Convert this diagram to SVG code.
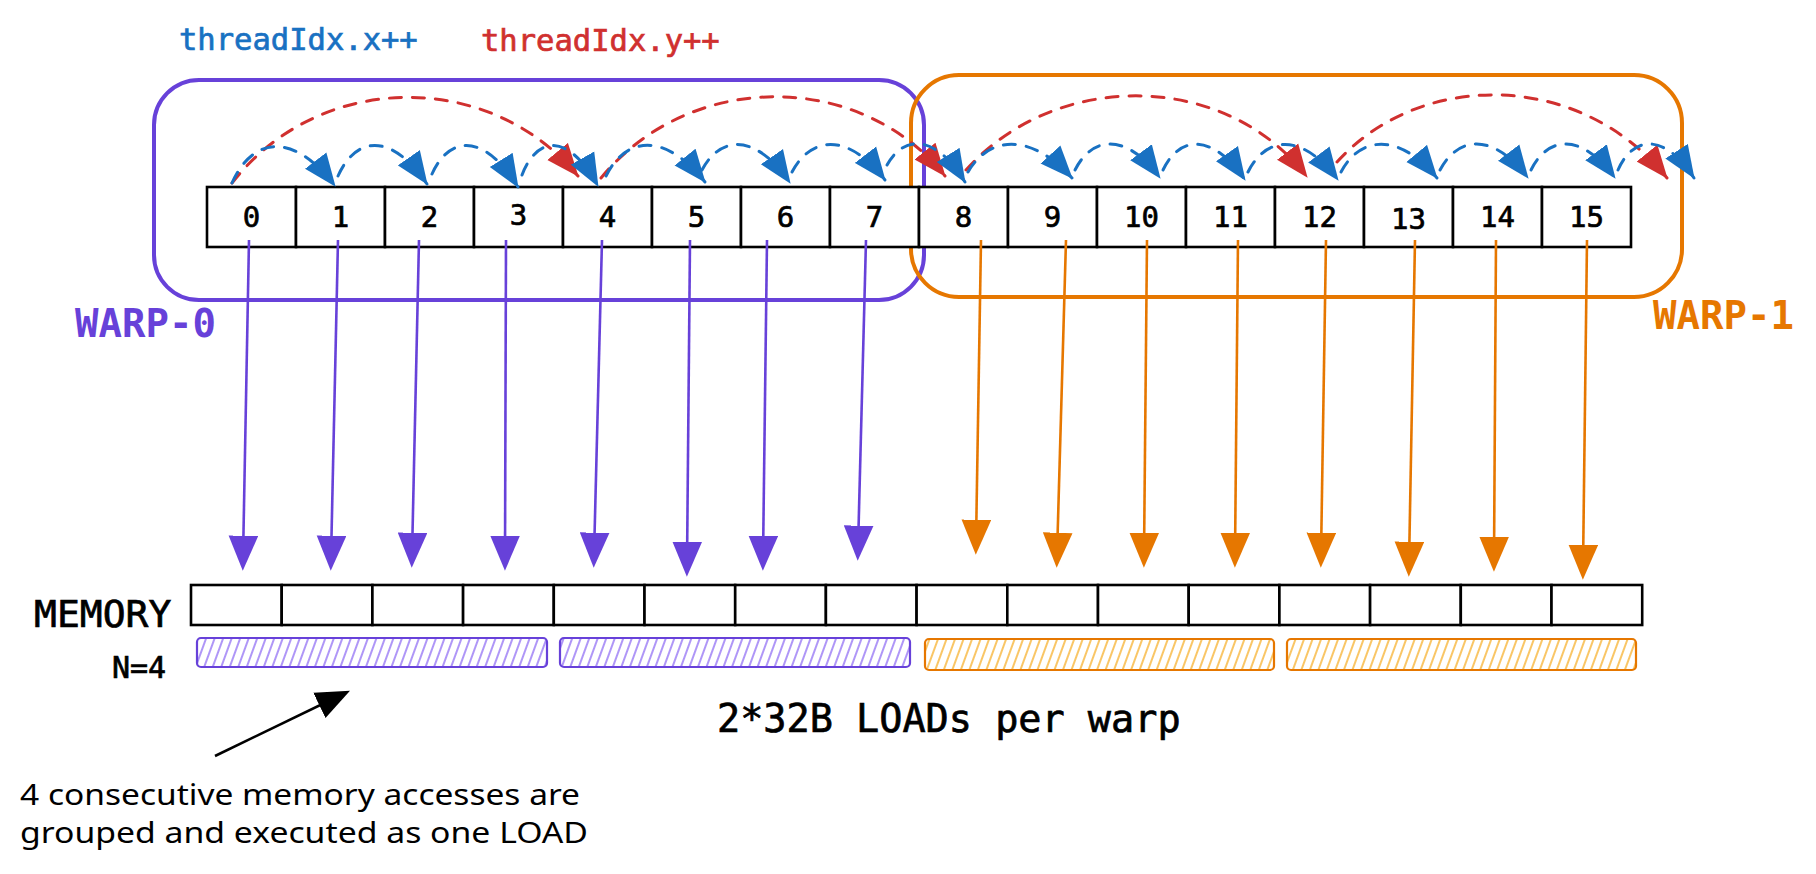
<svg xmlns="http://www.w3.org/2000/svg" width="1816" height="874" viewBox="0 0 1816 874">
<style>
.box{fill:#fff;stroke:#000;stroke-width:2.6}
.num{font-family:"DejaVu Sans Mono","Liberation Mono",monospace;font-size:29px;fill:#000;stroke:#000;stroke-width:0.7;text-anchor:middle}
.mono{font-family:"DejaVu Sans Mono","Liberation Mono",monospace}
.med{stroke-width:0.7}
.warp0{fill:none;stroke:#6741d9;stroke-width:4}
.warp1{fill:none;stroke:#e67700;stroke-width:4}
.vp{stroke:#6741d9;stroke-width:2.6;fill:none}
.vo{stroke:#e67700;stroke-width:2.6;fill:none}
.bx{stroke:#1971c2;stroke-width:3;fill:none;stroke-dasharray:12 11;stroke-linecap:round}
.rx{stroke:#d0302f;stroke-width:3;fill:none;stroke-dasharray:12 11;stroke-linecap:round}
.hand{font-family:"Noto Sans","Liberation Sans",sans-serif;font-size:29px;fill:#000}
</style>
<defs>
<marker id="ap" markerUnits="userSpaceOnUse" markerWidth="36" markerHeight="30" refX="22" refY="14" orient="auto" viewBox="0 0 34 28"><path d="M0,0 L33,14 L0,28 z" fill="#6741d9"/></marker>
<marker id="ao" markerUnits="userSpaceOnUse" markerWidth="36" markerHeight="30" refX="22" refY="14" orient="auto" viewBox="0 0 34 28"><path d="M0,0 L33,14 L0,28 z" fill="#e67700"/></marker>
<marker id="ab" markerUnits="userSpaceOnUse" markerWidth="34" markerHeight="28" refX="31" refY="13" orient="auto" viewBox="0 0 33 26"><path d="M0,0 L32,13 L0,26 z" fill="#1971c2"/></marker>
<marker id="ar" markerUnits="userSpaceOnUse" markerWidth="34" markerHeight="28" refX="31" refY="13" orient="auto" viewBox="0 0 33 26"><path d="M0,0 L32,13 L0,26 z" fill="#d0302f"/></marker>
<marker id="ak" markerUnits="userSpaceOnUse" markerWidth="34" markerHeight="30" refX="24" refY="14" orient="auto" viewBox="0 0 34 28"><path d="M0,0 L34,14 L0,28 z" fill="#000"/></marker>
<pattern id="hp" width="8" height="10" patternUnits="userSpaceOnUse" patternTransform="rotate(20)"><line x1="4" y1="0" x2="4" y2="10" stroke="#7950f2" stroke-width="1.2"/></pattern>
<pattern id="ho" width="8" height="10" patternUnits="userSpaceOnUse" patternTransform="rotate(20)"><line x1="4" y1="0" x2="4" y2="10" stroke="#f59f00" stroke-width="1.2"/></pattern>
</defs>

<g id="legend">
<text class="mono med" x="179" y="50" font-size="30.5" fill="#1971c2" stroke="#1971c2">threadIdx.x++</text>
<text class="mono med" x="481" y="51" font-size="30.5" fill="#d0302f" stroke="#d0302f">threadIdx.y++</text>
</g>

<g id="warp0">
<rect class="warp0" x="154" y="80" width="770" height="220" rx="45"/>
<text class="mono" x="75" y="337" font-size="39" font-weight="bold" fill="#6741d9">WARP-0</text>
</g>
<g id="warp1">
<rect class="warp1" x="911" y="75" width="771" height="222" rx="48"/>
<text class="mono" x="1653" y="329" font-size="39" font-weight="bold" fill="#e67700">WARP-1</text>
</g>

<g id="threads">
<g id="t0"><rect class="box" x="207" y="187" width="89" height="60"/><text class="num" x="251.5" y="227">0</text></g>
<g id="t1"><rect class="box" x="296" y="187" width="89" height="60"/><text class="num" x="340.5" y="227">1</text></g>
<g id="t2"><rect class="box" x="385" y="187" width="89" height="60"/><text class="num" x="429.5" y="227">2</text></g>
<g id="t3"><rect class="box" x="474" y="187" width="89" height="60"/><text class="num" x="518.5" y="225">3</text></g>
<g id="t4"><rect class="box" x="563" y="187" width="89" height="60"/><text class="num" x="607.5" y="227">4</text></g>
<g id="t5"><rect class="box" x="652" y="187" width="89" height="60"/><text class="num" x="696.5" y="227">5</text></g>
<g id="t6"><rect class="box" x="741" y="187" width="89" height="60"/><text class="num" x="785.5" y="227">6</text></g>
<g id="t7"><rect class="box" x="830" y="187" width="89" height="60"/><text class="num" x="874.5" y="227">7</text></g>
<g id="t8"><rect class="box" x="919" y="187" width="89" height="60"/><text class="num" x="963.5" y="227">8</text></g>
<g id="t9"><rect class="box" x="1008" y="187" width="89" height="60"/><text class="num" x="1052.5" y="227">9</text></g>
<g id="t10"><rect class="box" x="1097" y="187" width="89" height="60"/><text class="num" x="1141.5" y="227">10</text></g>
<g id="t11"><rect class="box" x="1186" y="187" width="89" height="60"/><text class="num" x="1230.5" y="227">11</text></g>
<g id="t12"><rect class="box" x="1275" y="187" width="89" height="60"/><text class="num" x="1319.5" y="227">12</text></g>
<g id="t13"><rect class="box" x="1364" y="187" width="89" height="60"/><text class="num" x="1408.5" y="229">13</text></g>
<g id="t14"><rect class="box" x="1453" y="187" width="89" height="60"/><text class="num" x="1497.5" y="227">14</text></g>
<g id="t15"><rect class="box" x="1542" y="187" width="89" height="60"/><text class="num" x="1586.5" y="227">15</text></g>
</g>

<g id="memory">
<text class="mono med" x="34" y="627" font-size="38" fill="#000" stroke="#000" stroke-width="1.2">MEMORY</text>
<text class="mono med" x="112" y="678" font-size="30" fill="#000" stroke="#000">N=4</text>
<rect class="box" x="191" y="585" width="90.7" height="40"/>
<rect class="box" x="281.7" y="585" width="90.7" height="40"/>
<rect class="box" x="372.4" y="585" width="90.7" height="40"/>
<rect class="box" x="463.1" y="585" width="90.7" height="40"/>
<rect class="box" x="553.8" y="585" width="90.7" height="40"/>
<rect class="box" x="644.5" y="585" width="90.7" height="40"/>
<rect class="box" x="735.2" y="585" width="90.7" height="40"/>
<rect class="box" x="825.9" y="585" width="90.7" height="40"/>
<rect class="box" x="916.6" y="585" width="90.7" height="40"/>
<rect class="box" x="1007.3" y="585" width="90.7" height="40"/>
<rect class="box" x="1098" y="585" width="90.7" height="40"/>
<rect class="box" x="1188.7" y="585" width="90.7" height="40"/>
<rect class="box" x="1279.4" y="585" width="90.7" height="40"/>
<rect class="box" x="1370.1" y="585" width="90.7" height="40"/>
<rect class="box" x="1460.8" y="585" width="90.7" height="40"/>
<rect class="box" x="1551.5" y="585" width="90.7" height="40"/>
</g>

<g id="loads">
<rect x="197" y="638" width="350" height="29" rx="4" fill="url(#hp)" stroke="#6741d9" stroke-width="2.2"/>
<rect x="560" y="638" width="350" height="29" rx="4" fill="url(#hp)" stroke="#6741d9" stroke-width="2.2"/>
<rect x="925" y="639" width="349" height="31" rx="4" fill="url(#ho)" stroke="#e67700" stroke-width="2.2"/>
<rect x="1287" y="639" width="349" height="31" rx="4" fill="url(#ho)" stroke="#e67700" stroke-width="2.2"/>
<text class="mono med" x="717" y="732" font-size="38.5" fill="#000" stroke="#000">2*32B LOADs per warp</text>
</g>

<g id="note">
<text class="hand" x="20" y="805" textLength="560" lengthAdjust="spacingAndGlyphs">4 consecutive memory accesses are</text>
<text class="hand" x="20" y="843" textLength="568" lengthAdjust="spacingAndGlyphs">grouped and executed as one LOAD</text>
</g>

<g id="connectors">
<path class="vp" d="M249,240 L243,559" marker-end="url(#ap)"/>
<path class="vp" d="M338,240 L331,559" marker-end="url(#ap)"/>
<path class="vp" d="M419,240 L412,556" marker-end="url(#ap)"/>
<path class="vp" d="M506,240 L505,559" marker-end="url(#ap)"/>
<path class="vp" d="M602,240 L594,556" marker-end="url(#ap)"/>
<path class="vp" d="M690,240 L687,565" marker-end="url(#ap)"/>
<path class="vp" d="M767,240 L763,559" marker-end="url(#ap)"/>
<path class="vp" d="M866,240 L858,549" marker-end="url(#ap)"/>
<path class="vo" d="M981,240 L976,543" marker-end="url(#ao)"/>
<path class="vo" d="M1066,240 L1057,556" marker-end="url(#ao)"/>
<path class="vo" d="M1147,240 L1144,556" marker-end="url(#ao)"/>
<path class="vo" d="M1238,240 L1235,556" marker-end="url(#ao)"/>
<path class="vo" d="M1326,240 L1321,556" marker-end="url(#ao)"/>
<path class="vo" d="M1415,240 L1409,565" marker-end="url(#ao)"/>
<path class="vo" d="M1496,240 L1494,560" marker-end="url(#ao)"/>
<path class="vo" d="M1587,240 L1583,568" marker-end="url(#ao)"/>

<path class="rx" d="M232,183 C320,70 490,70 578,176" marker-end="url(#ar)"/>
<path class="rx" d="M601,178 C690,70 860,70 945,176" marker-end="url(#ar)"/>
<path class="rx" d="M966,170 C1055,70 1225,70 1307,177" marker-end="url(#ar)"/>
<path class="rx" d="M1337,162 C1420,70 1580,70 1667,178" marker-end="url(#ar)"/>

<path class="bx" d="M232,183 C253,136 294,132 335,186" marker-end="url(#ab)"/>
<path class="bx" d="M338,176 C356,136 391,132 427,184" marker-end="url(#ab)"/>
<path class="bx" d="M432,174 C449,136 484,132 518,187" marker-end="url(#ab)"/>
<path class="bx" d="M522,175 C537,136 568,132 598,186" marker-end="url(#ab)"/>
<path class="bx" d="M606,176 C626,136 665,132 705,182" marker-end="url(#ab)"/>
<path class="bx" d="M702,170 C720,136 755,132 790,183" marker-end="url(#ab)"/>
<path class="bx" d="M792,172 C811,136 848,132 885,180" marker-end="url(#ab)"/>
<path class="bx" d="M887,165 C903,136 934,132 965,182" marker-end="url(#ab)"/>
<path class="bx" d="M968,172 C989,136 1030,132 1072,178" marker-end="url(#ab)"/>
<path class="bx" d="M1075,170 C1092,136 1126,132 1160,178" marker-end="url(#ab)"/>
<path class="bx" d="M1163,170 C1179,136 1212,132 1245,180" marker-end="url(#ab)"/>
<path class="bx" d="M1248,172 C1266,136 1302,132 1338,180" marker-end="url(#ab)"/>
<path class="bx" d="M1341,172 C1360,136 1399,132 1437,178" marker-end="url(#ab)"/>
<path class="bx" d="M1440,170 C1458,136 1493,132 1528,178" marker-end="url(#ab)"/>
<path class="bx" d="M1531,170 C1548,136 1581,132 1615,178" marker-end="url(#ab)"/>
<path class="bx" d="M1618,170 C1633,136 1664,132 1694,178" marker-end="url(#ab)"/>

<path d="M215,756 L341,695" stroke="#000" stroke-width="2.6" fill="none" marker-end="url(#ak)"/>
</g>
</svg>
